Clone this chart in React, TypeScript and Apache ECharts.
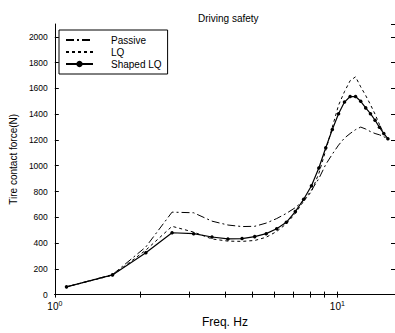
import React, { useEffect, useRef } from "react";
import * as echarts from "echarts";

const freqHz = [1.1, 1.6, 2.1, 2.6, 3.1, 3.6, 4.1, 4.6, 5.1, 5.6, 6.1, 6.6, 7.1, 7.6, 8.1, 8.6, 9.1, 9.6, 10.1, 10.6, 11.1, 11.6, 12.1, 12.6, 13.1, 13.6, 14.1, 14.6, 15.1];
const passive = [60, 155, 370, 640, 635, 570, 540, 528, 530, 555, 590, 630, 675, 730, 810, 900, 1010, 1090, 1160, 1215, 1250, 1280, 1300, 1285, 1265, 1250, 1240, 1225, 1210];
const lq = [60, 150, 345, 530, 485, 432, 415, 413, 420, 445, 490, 550, 630, 725, 800, 940, 1120, 1300, 1470, 1575, 1660, 1690, 1612, 1545, 1474, 1400, 1320, 1250, 1210];
const shapedLq = [60, 153, 325, 480, 473, 447, 432, 435, 450, 473, 511, 561, 644, 740, 845, 983, 1140, 1281, 1404, 1494, 1537, 1537, 1500, 1449, 1404, 1353, 1298, 1250, 1210];
const xTickValues = [1.0001, 2, 3, 4, 5, 6, 7, 8, 9, 10];
const xLabelValues = [1.0001, 10];
const yTickStep = 200;

const FONT = "'Liberation Sans', Arial, sans-serif";

export default function App() {
  const ref = useRef<HTMLDivElement>(null);
  useEffect(() => {
    if (!ref.current) return;
    const chart = echarts.init(ref.current, undefined, { renderer: "svg" });
    const pair = (ys: number[]) => freqHz.map((f, i) => [f, ys[i]]);
    const axisLine = { show: true, lineStyle: { color: "#000", width: 1 } };
    const xTick = { show: true, inside: true, length: 3, customValues: xTickValues, lineStyle: { color: "#000" } };
    const yTick = { show: true, inside: true, length: 4, lineStyle: { color: "#000" } };
    const option: any = {
      animation: false,
      textStyle: { fontFamily: FONT, color: "#000" },
      title: {
        text: "Driving safety",
        left: 193,
        top: 8,
        textStyle: { fontSize: 10, fontWeight: "normal", color: "#000", fontFamily: FONT },
      },
      grid: { left: 53, right: -1, top: 24, bottom: 32, containLabel: false },
      legend: {
        orient: "vertical",
        left: 59,
        top: 30,
        padding: [4, 6, 4, 6],
        itemGap: 0,
        itemWidth: 27,
        itemHeight: 8,
        backgroundColor: "#fff",
        borderColor: "#000",
        borderWidth: 1,
        borderRadius: 0,
        data: [
          { name: "Passive", itemStyle: { opacity: 0 } },
          { name: "LQ", itemStyle: { opacity: 0 } },
          { name: "Shaped LQ" },
        ],
        textStyle: { fontSize: 10, color: "#000", fontFamily: FONT, padding: [0, 0, 0, 13], lineHeight: 12 },
      },
      xAxis: [
        {
          type: "log",
          logBase: 10,
          min: 1,
          max: 16,
          position: "bottom",
          axisLine,
          axisTick: xTick,
          splitLine: { show: false },
          name: "Freq. Hz",
          nameLocation: "middle",
          nameGap: 15,
          nameTextStyle: { fontSize: 12, color: "#000", fontFamily: FONT },
          axisLabel: {
            color: "#000",
            margin: 5,
            customValues: xLabelValues,
            showMinLabel: true,
            formatter: (v: number) => `{b|10}{s|${Math.round(Math.log10(v))}}`,
            rich: {
              b: { fontSize: 10, fontFamily: FONT, color: "#000" },
              s: { fontSize: 7, fontFamily: FONT, color: "#000", padding: [0, 0, 6, 0] },
            },
          },
        },
        {
          type: "log",
          logBase: 10,
          min: 1,
          max: 16,
          position: "top",
          axisLine,
          axisTick: xTick,
          splitLine: { show: false },
          axisLabel: { show: false },
        },
      ],
      yAxis: [
        {
          type: "value",
          min: 0,
          max: 2100,
          interval: yTickStep,
          position: "left",
          axisLine,
          axisTick: yTick,
          splitLine: { show: false },
          name: "Tire contact force(N)",
          nameLocation: "middle",
          nameGap: 34,
          nameTextStyle: { fontSize: 10, color: "#000", fontFamily: FONT },
          axisLabel: {
            color: "#000",
            fontSize: 8.5,
            margin: 7,
            showMaxLabel: false,
            fontFamily: FONT,
            formatter: (v: number) => String(v),
          },
        },
        {
          type: "value",
          min: 0,
          max: 2100,
          interval: yTickStep,
          position: "right",
          axisLine,
          axisTick: yTick,
          splitLine: { show: false },
          axisLabel: { show: false },
        },
      ],
      series: [
        {
          name: "Passive",
          type: "line",
          data: pair(passive),
          symbol: "none",
          itemStyle: { color: "#000" },
          lineStyle: { color: "#000", width: 1, type: [8, 3, 2, 3] },
        },
        {
          name: "LQ",
          type: "line",
          data: pair(lq),
          symbol: "none",
          itemStyle: { color: "#000" },
          lineStyle: { color: "#000", width: 1, type: [3, 3] },
        },
        {
          name: "Shaped LQ",
          type: "line",
          data: pair(shapedLq),
          symbol: "circle",
          symbolSize: 3.5,
          showSymbol: true,
          itemStyle: { color: "#000" },
          lineStyle: { color: "#000", width: 1.2, type: "solid" },
        },
      ],
    };
    chart.setOption(option);
    return () => chart.dispose();
  }, []);
  return <div ref={ref} style={{ width: 395, height: 333, position: "absolute", left: 0, top: 0, background: "#fff" }} />;
}
